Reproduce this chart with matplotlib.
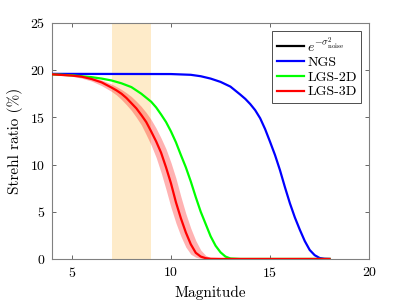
import numpy as np
import matplotlib
matplotlib.use('Agg')
import matplotlib.pyplot as plt
from matplotlib.lines import Line2D

plt.rcParams['font.family'] = 'cmr10'
plt.rcParams['mathtext.fontset'] = 'cm'
plt.rcParams['axes.formatter.use_mathtext'] = True

# magnitude grid / Strehl values (%)
red_mag = [4, 5, 5.5, 6, 6.5, 7, 7.25, 7.5, 7.75, 8, 8.25, 8.5, 8.75, 9, 9.25, 9.5,
           9.75, 10, 10.25, 10.5, 10.75, 11, 11.25, 11.5, 11.75, 12, 12.5, 18]
lgs3d = [19.55, 19.42, 19.3, 19.05, 18.7, 18.15, 17.85, 17.5, 17.05, 16.5, 15.95, 15.25,
         14.5, 13.5, 12.45, 11.25, 9.7, 8.0, 6.0, 4.3, 2.8, 1.55, 0.65, 0.25, 0.08, 0.02, 0, 0]
lgs3d_hi = [19.58, 19.47, 19.38, 19.22, 18.95, 18.52, 18.25, 17.95, 17.6, 17.2, 16.7, 16.15,
            15.5, 14.75, 13.85, 12.8, 11.65, 10.2, 8.55, 6.6, 4.8, 3.25, 1.95, 0.95, 0.38,
            0.13, 0.01, 0]
lgs3d_lo = [19.5, 19.34, 19.14, 18.83, 18.35, 17.74, 17.36, 16.88, 16.33, 15.73, 15.0, 14.2,
            13.15, 12.05, 10.75, 9.15, 7.35, 5.45, 3.8, 2.4, 1.25, 0.5, 0.18, 0.05, 0.01, 0, 0, 0]

green_mag = [4, 5, 6, 6.5, 7, 7.5, 8, 8.5, 9, 9.25, 9.5, 9.75, 10, 10.25, 10.5, 10.75, 11,
             11.25, 11.5, 11.75, 12, 12.25, 12.5, 12.75, 13, 13.5, 18]
lgs2d = [19.55, 19.45, 19.25, 19.1, 18.9, 18.6, 18.2, 17.5, 16.65, 16.05, 15.3, 14.5, 13.5,
         12.35, 11.0, 9.7, 8.2, 6.55, 5.0, 3.7, 2.4, 1.4, 0.7, 0.25, 0.05, 0, 0]

blue_mag = [4, 10, 11, 11.5, 12, 12.5, 13, 13.5, 13.75, 14, 14.25, 14.5, 14.75, 15, 15.25,
            15.5, 15.75, 16, 16.25, 16.5, 16.75, 17, 17.25, 17.5, 17.75, 18]
ngs = [19.6, 19.58, 19.5, 19.35, 19.1, 18.75, 18.25, 17.4, 16.95, 16.4, 15.75, 14.9, 13.75,
       12.4, 11.0, 9.4, 7.6, 5.9, 4.4, 3.1, 1.9, 0.95, 0.4, 0.1, 0.02, 0]

span = (7, 9)

fig = plt.figure(figsize=(4.07, 3.05), dpi=100)
ax = fig.add_axes([0.128, 0.151, 0.779, 0.774])

ax.axvspan(span[0], span[1], color='#FEEBC9', lw=0, zorder=0)
ax.fill_between(red_mag, lgs3d_lo, lgs3d_hi, color='red', alpha=0.3, lw=0, zorder=1)
ax.plot(blue_mag, ngs, color='#0000FF', lw=1.6, zorder=3)
ax.plot(green_mag, lgs2d, color='#00FF00', lw=1.6, zorder=3)
ax.plot(red_mag, lgs3d, color='#FF0000', lw=1.6, zorder=4)

handles = [Line2D([], [], color='k', lw=1.6),
           Line2D([], [], color='#0000FF', lw=1.6),
           Line2D([], [], color='#00FF00', lw=1.6),
           Line2D([], [], color='#FF0000', lw=1.6)]
labels = [r'$e^{-\sigma^2_{\rm noise}}$', 'NGS', 'LGS-2D', 'LGS-3D']

ax.set_xlim(4, 20)
ax.set_ylim(0, 25)
ax.set_xticks([5, 10, 15, 20])
ax.set_yticks([0, 5, 10, 15, 20, 25])
ax.tick_params(direction='in', top=True, right=True, length=3, width=0.6,
               color='0.3', labelsize=10, pad=5)
for s in ax.spines.values():
    s.set_color('0.5')
    s.set_linewidth(0.8)
ax.set_xlabel('Magnitude', fontsize=11, labelpad=4)
ax.set_ylabel('Strehl ratio (%)', fontsize=11, labelpad=5)

leg = ax.legend(handles, labels, loc='upper right', fontsize=10, handlelength=2.0,
                handletextpad=0.2, borderpad=0.3, labelspacing=0.15, fancybox=False,
                framealpha=1, borderaxespad=0.6)
leg.get_frame().set_edgecolor('0.3')
leg.get_frame().set_linewidth(0.7)

fig.savefig('out.png', dpi=100)
